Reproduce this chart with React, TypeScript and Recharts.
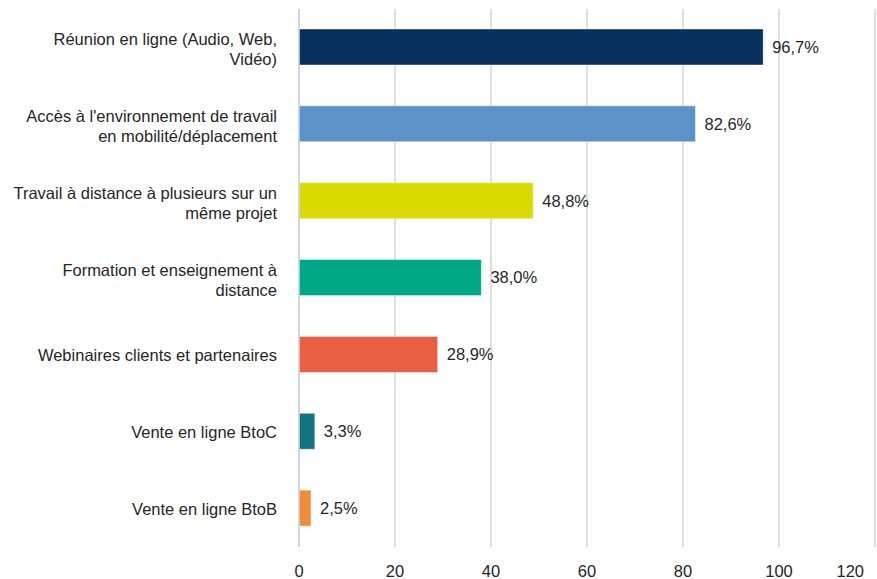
import { BarChart, Bar, XAxis, YAxis, CartesianGrid, Cell, LabelList } from 'recharts';

const categories = [
  'Réunion en ligne (Audio, Web,\nVidéo)',
  "Accès à l'environnement de travail\nen mobilité/déplacement",
  'Travail à distance à plusieurs sur un\nmême projet',
  'Formation et enseignement à\ndistance',
  'Webinaires clients et partenaires',
  'Vente en ligne BtoC',
  'Vente en ligne BtoB',
];
const values = [96.7, 82.6, 48.8, 38.0, 28.9, 3.3, 2.5];
const colors = ['#08305f', '#5b93c9', '#d9db00', '#00a887', '#e85f41', '#127480', '#ef8d3c'];
const xTicks = [0, 20, 40, 60, 80, 100, 120];

const data = categories.map((name, i) => ({ name, value: values[i] }));

const FONT = '"Liberation Sans", Arial, sans-serif';
const TEXT = '#262626';

function CategoryTick({ x, y, payload }: any) {
  const lines = String(payload.value).split('\n');
  const lh = 20;
  const first = -((lines.length - 1) * lh) / 2 + (lines.length > 1 ? 2 : 0);
  return (
    <text x={x} y={y} textAnchor="end" fill={TEXT} fontSize={16.5} fontFamily={FONT}>
      {lines.map((line, i) => (
        <tspan key={i} x={x} y={y + first + i * lh} dy="0.36em">{line}</tspan>
      ))}
    </text>
  );
}

function ValueTick({ x, y, payload }: any) {
  const last = payload.value === xTicks[xTicks.length - 1];
  return (
    <text x={last ? x - 1 : x} y={y} dy="0.71em" textAnchor={last ? 'end' : 'middle'} fill={TEXT} fontSize={16.5} fontFamily={FONT}>
      {payload.value}
    </text>
  );
}

export default function App() {
  return (
    <div style={{ position: 'absolute', left: 0, top: 0, background: '#fff' }}>
      <BarChart
        width={877}
        height={579}
        data={data}
        layout="vertical"
        margin={{ top: 9, right: 2, bottom: 0, left: 0 }}
      >
        <CartesianGrid horizontal={false} stroke="#d3d3d3" strokeWidth={1.5} />
        <XAxis
          type="number"
          domain={[0, 120]}
          ticks={xTicks}
          axisLine={false}
          tickLine={false}
          tickMargin={12}
          height={32}
          tick={<ValueTick />}
        />
        <YAxis
          type="category"
          dataKey="name"
          width={299}
          axisLine={{ stroke: '#c9d2e4', strokeWidth: 1.5 }}
          tickLine={false}
          tickMargin={16}
          interval={0}
          tick={<CategoryTick />}
        />
        <Bar dataKey="value" barSize={36} isAnimationActive={false} stroke="rgba(255,255,255,0.45)" strokeWidth={1}>
          {data.map((d, i) => (
            <Cell key={`cell-${i}`} fill={colors[i]} />
          ))}
          <LabelList
            dataKey="value"
            position="right"
            offset={9}
            fill={TEXT}
            fontSize={16.5}
            fontFamily={FONT}
            formatter={(v: any) => `${Number(v).toFixed(1).replace('.', ',')}%`}
          />
        </Bar>
      </BarChart>
    </div>
  );
}
